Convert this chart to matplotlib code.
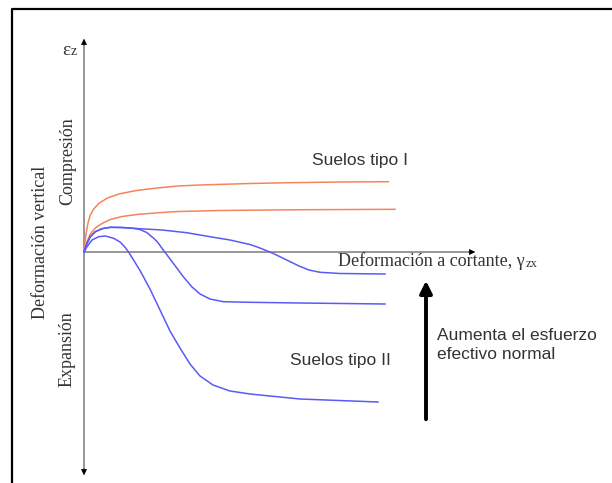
import numpy as np
import matplotlib.pyplot as plt
from matplotlib.lines import Line2D

# curves (arbitrary units: shear strain vs vertical strain)
# Suelos tipo I
g_tipo1_a = [0, 0.1, 0.2, 0.4, 0.63, 0.97, 1.47, 2.3, 3.47, 5.13, 6.47, 7.8, 9.4, 11.6, 16.6, 20.6, 25.6, 30.43]
e_tipo1_a = [0, 1.0, 1.8, 2.9, 3.7, 4.3, 4.85, 5.37, 5.8, 6.13, 6.3, 6.45, 6.6, 6.7, 6.85, 6.93, 7.0, 7.03]
g_tipo1_b = [0, 0.3, 0.63, 1.13, 1.8, 2.63, 3.8, 5.47, 7.8, 9.4, 13.6, 20.6, 31.1]
e_tipo1_b = [0, 1.03, 1.8, 2.4, 2.85, 3.25, 3.55, 3.77, 3.95, 4.05, 4.15, 4.22, 4.27]

# Suelos tipo II
g_tipo2_a = [0, 0.3, 0.63, 1.13, 1.8, 2.63, 3.8, 4.93, 6.93, 7.8, 10.27, 12.6, 14.6, 16.6, 17.6,
             18.93, 20.27, 21.5, 22.5, 23.6, 25.6, 30.1]
e_tipo2_a = [0, 0.87, 1.53, 2.03, 2.33, 2.47, 2.45, 2.37, 2.25, 2.2, 1.93, 1.53, 1.2, 0.75, 0.4,
             -0.15, -0.8, -1.4, -1.8, -2.03, -2.15, -2.2]
g_tipo2_b = [0, 0.3, 0.63, 1.13, 1.8, 2.63, 3.8, 4.93, 5.6, 6.27, 6.97, 7.35, 7.8, 8.1, 8.93, 9.93,
             10.77, 11.6, 12.6, 13.93, 16.6, 21.6, 30.1]
e_tipo2_b = [0, 0.87, 1.53, 2.03, 2.33, 2.47, 2.45, 2.37, 2.25, 1.95, 1.37, 1.0, 0.37, -0.03, -1.13,
             -2.47, -3.47, -4.2, -4.7, -4.97, -5.03, -5.1, -5.2]
g_tipo2_c = [0, 0.3, 0.8, 1.47, 2.13, 2.97, 3.63, 4.13, 4.45, 4.8, 5.6, 6.6, 7.6, 8.6, 9.6, 10.6,
             11.6, 12.9, 14.6, 16.6, 21.6, 29.4]
e_tipo2_c = [0, 0.53, 1.2, 1.53, 1.6, 1.37, 0.98, 0.45, 0, -0.55, -1.85, -3.7, -5.8, -7.9, -9.6, -11.2,
             -12.4, -13.3, -13.9, -14.2, -14.7, -15.0]

lbl_x = 'Deformación a cortante, γ'
lbl_vert = 'Deformación vertical'
lbl_comp = 'Compresión'
lbl_exp = 'Expansión'
lbl_t1 = 'Suelos tipo I'
lbl_t2 = 'Suelos tipo II'
lbl_arrow = 'Aumenta el esfuerzo\nefectivo normal'

orange = '#f4845f'
blue = '#5a5af5'
txt = '#333333'
serif = 'Liberation Serif'
sans = 'Liberation Sans'

fig = plt.figure(figsize=(6.12, 4.83), dpi=100)
ax = fig.add_axes([0, 0, 1, 1])
ax.set_xlim(-8.4, 52.8)
ax.set_ylim(-23.1, 25.2)
ax.axis('off')

# axes lines (grey) with black heads
ax.plot([0, 0], [-22.0, 21.0], color='#7a7a7a', lw=1.1, zorder=1)
ax.plot([0, 38.8], [0, 0], color='#7a7a7a', lw=1.1, zorder=1)
hd = dict(arrowstyle='-|>', color='black', lw=0.5, mutation_scale=9)
ax.annotate('', xy=(0, 21.6), xytext=(0, 20.4), arrowprops=hd)
ax.annotate('', xy=(0, -22.6), xytext=(0, -21.4), arrowprops=hd)
ax.annotate('', xy=(39.4, 0), xytext=(38.2, 0), arrowprops=hd)

# curves
for g, e in [(g_tipo1_a, e_tipo1_a), (g_tipo1_b, e_tipo1_b)]:
    ax.plot(g, e, color=orange, lw=1.1, zorder=2, solid_joinstyle='round')
for g, e in [(g_tipo2_a, e_tipo2_a), (g_tipo2_b, e_tipo2_b), (g_tipo2_c, e_tipo2_c)]:
    ax.plot(g, e, color=blue, lw=1.1, zorder=2, solid_joinstyle='round')

# big arrow
ax.annotate('', xy=(34.2, -2.6), xytext=(34.2, -17.0),
            arrowprops=dict(arrowstyle='-|>', color='black', lw=2.8, mutation_scale=18))

# labels
t = ax.text(25.4, -1.45, lbl_x, family=serif, fontsize=13, color=txt,
            ha='left', va='baseline')
ax.annotate('zx', xy=(1, 0), xycoords=t, xytext=(0.5, 0.5), textcoords='offset points',
            family=serif, fontsize=9, color=txt, ha='left', va='bottom')
ax.text(-2.2, 19.7, 'ε', family=serif, fontsize=14, color=txt, ha='left', va='baseline')
ax.text(-1.3, 19.7, 'z', family=serif, fontsize=10, color=txt, ha='left', va='baseline')

ax.text(-1.65, 9.1, lbl_comp, family=serif, fontsize=13, color=txt,
        rotation=90, ha='center', va='center')
ax.text(-1.65, -9.7, lbl_exp, family=serif, fontsize=13, color=txt,
        rotation=90, ha='center', va='center')
ax.text(-4.35, 0.95, lbl_vert, family=serif, fontsize=13, color=txt,
        rotation=90, ha='center', va='center')

ax.text(22.8, 9.1, lbl_t1, family=sans, fontsize=12.5, color=txt, ha='left', va='center')
ax.text(20.6, -10.8, lbl_t2, family=sans, fontsize=12.5, color=txt, ha='left', va='center')
ax.text(35.3, -9.3, lbl_arrow, family=sans, fontsize=12.5, color=txt,
        ha='left', va='center', linespacing=1.3)

# frame of the original picture (only top and left visible)
fig.add_artist(Line2D([11.7 / 612, 11.7 / 612, 1], [0, 1 - 9.3 / 483, 1 - 9.3 / 483],
                      transform=fig.transFigure, color='black', lw=1.6))

fig.savefig('out.png', dpi=100)
